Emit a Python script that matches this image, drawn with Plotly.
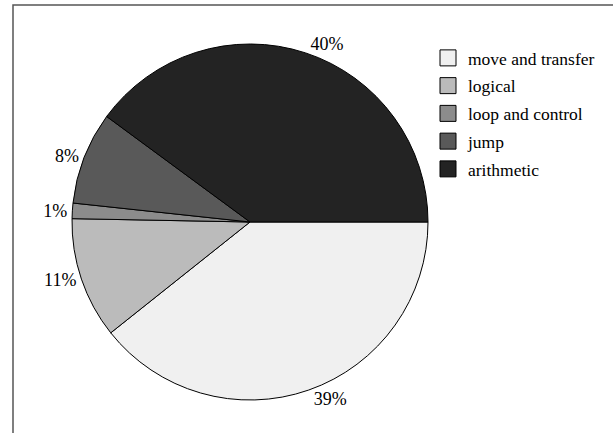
import plotly.graph_objects as go

categories = ["move and transfer", "logical", "loop and control", "jump", "arithmetic"]
shares = [39.3, 11.0, 1.4, 8.4, 39.9]
colors = ["#f0f0f0", "#bbbbbb", "#8c8c8c", "#595959", "#232323"]

W, H = 613, 433
FONT = "Liberation Serif, Times New Roman, serif"

fig = go.Figure()
fig.add_trace(go.Pie(
    labels=categories,
    values=shares,
    sort=False,
    direction="clockwise",
    rotation=90,
    marker=dict(colors=colors, line=dict(color="black", width=1)),
    textposition="outside",
    texttemplate="%{percent:.0%}",
    textfont=dict(family=FONT, size=18, color="black"),
    showlegend=False,
    domain=dict(x=[72 / W, 428 / W], y=[1 - 400 / H, 1 - 44 / H]),
    hoverinfo="label+percent",
))

for name, col in zip(categories, colors):
    fig.add_trace(go.Scatter(
        x=[None], y=[None], mode="markers", name=name, legendgroup=name,
        marker=dict(symbol="square", size=16, color=col, line=dict(color="black", width=1)),
    ))

fig.update_layout(
    width=W, height=H,
    margin=dict(l=0, r=0, t=0, b=0),
    paper_bgcolor="white", plot_bgcolor="white",
    xaxis=dict(visible=False), yaxis=dict(visible=False),
    legend=dict(
        x=428 / W, y=1 - 40 / H, xanchor="left", yanchor="top",
        font=dict(family=FONT, size=17.5, color="black"),
        bgcolor="rgba(0,0,0,0)", itemwidth=30,
        tracegroupgap=2, traceorder="grouped",
    ),
    shapes=[dict(type="rect", xref="paper", yref="paper",
                 x0=13 / W, x1=1.2, y0=-0.2, y1=1 - 5 / H,
                 line=dict(color="#555555", width=1.5), layer="below")],
)

fig.write_html("out.html")
